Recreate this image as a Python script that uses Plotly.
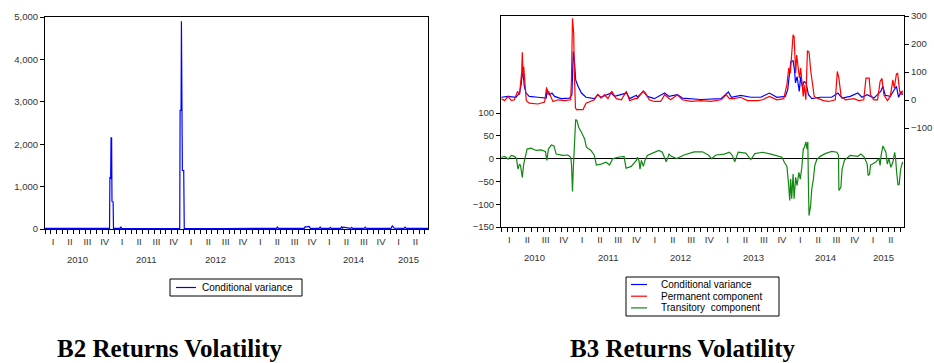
import plotly.graph_objects as go

# ---------------- data ----------------
# B2: conditional variance
b2_dates = ["2010-01-01", "2010-06-01", "2010-12-08", "2010-12-10", "2010-12-14", "2010-12-16",
            "2010-12-19", "2010-12-21", "2010-12-27", "2010-12-29", "2011-02-02", "2011-02-06",
            "2011-02-10", "2011-07-01", "2011-12-14", "2011-12-16", "2011-12-21", "2011-12-23",
            "2011-12-28", "2012-01-04", "2012-01-07", "2012-08-01", "2013-05-08", "2013-05-13",
            "2013-05-18", "2013-10-02", "2013-10-07", "2013-10-14", "2013-10-28", "2013-11-03",
            "2013-12-20", "2013-12-25", "2013-12-30", "2014-02-12", "2014-02-17", "2014-02-22",
            "2014-04-12", "2014-04-17", "2014-04-22", "2014-04-26", "2014-06-04", "2014-06-10",
            "2014-06-15", "2014-08-14", "2014-08-20", "2014-08-25", "2015-01-04", "2015-01-10",
            "2015-01-20", "2015-03-13", "2015-03-19", "2015-03-25", "2015-07-18"]
b2_values = [15, 12, 15, 1210, 1200, 2150, 2150, 650, 640, 15, 15, 50,
             15, 12, 15, 2800, 2800, 4900, 1380, 1380, 15, 12, 15, 45,
             15, 15, 55, 50, 60, 15, 15, 45, 15, 15, 40, 15,
             15, 50, 20, 45, 15, 40, 15, 15, 45, 15, 15, 80,
             20, 15, 45, 15, 15]

# B3: conditional variance (right axis)
cv_dates = ["2010-01-03", "2010-02-06", "2010-03-17", "2010-04-04", "2010-04-12", "2010-04-18",
            "2010-04-23", "2010-04-28", "2010-05-07", "2010-05-23", "2010-07-05", "2010-08-16",
            "2010-08-21", "2010-09-02", "2010-09-14", "2010-09-27", "2010-10-30", "2010-12-11",
            "2010-12-23", "2010-12-30", "2011-01-05", "2011-01-11", "2011-01-23", "2011-02-09",
            "2011-03-04", "2011-04-15", "2011-05-02", "2011-05-18", "2011-07-08", "2011-07-25",
            "2011-09-23", "2011-10-09", "2011-11-12", "2011-11-17", "2011-12-17", "2012-01-06",
            "2012-02-10", "2012-04-02", "2012-04-24", "2012-06-05", "2012-06-30", "2012-10-01",
            "2013-01-10", "2013-02-16", "2013-03-03", "2013-04-19", "2013-06-09", "2013-07-29",
            "2013-09-10", "2013-10-18", "2013-11-29", "2013-12-11", "2013-12-19", "2013-12-27",
            "2014-01-07", "2014-01-14", "2014-01-19", "2014-01-27", "2014-02-07", "2014-02-14",
            "2014-02-22", "2014-03-03", "2014-03-13", "2014-03-25", "2014-04-11", "2014-05-23",
            "2014-07-20", "2014-08-20", "2014-09-10", "2014-10-21", "2014-11-28", "2014-12-19",
            "2015-01-14", "2015-02-17", "2015-03-23", "2015-04-03", "2015-04-15", "2015-05-10",
            "2015-05-30", "2015-06-10", "2015-06-21", "2015-07-03", "2015-07-11"]
cv_values = [10, 13, 10, 25, 55, 96,
             90, 49, 25, 13, 10, 7,
             37, 19, 25, 13, 5, 7,
             19, 173, 138, 72, 49, 25,
             10, 5, 19, 10, 25, 13,
             25, 5, 17, 10, 31, 13,
             5, 25, 13, 19, 7, 2,
             5, 29, 10, 17, 10, 10,
             25, 10, 13, 37, 90, 138,
             140, 108, 61, 84, 31, 84,
             49, 66, 61, 19, 5, 10,
             10, 25, 7, 13, 25, 10,
             19, 7, 31, 49, 17, 13,
             37, 49, 10, 31, 19]

# B3: permanent component (right axis)
pc_dates = ["2010-01-03", "2010-01-19", "2010-02-06", "2010-02-22", "2010-03-09", "2010-03-25",
            "2010-04-04", "2010-04-15", "2010-04-18", "2010-04-22", "2010-04-25", "2010-05-02",
            "2010-05-08", "2010-05-23", "2010-07-05", "2010-08-08", "2010-08-18", "2010-08-24",
            "2010-08-29", "2010-09-11", "2010-09-19", "2010-10-14", "2010-11-17", "2010-12-17",
            "2010-12-21", "2010-12-26", "2011-01-01", "2011-01-05", "2011-01-10", "2011-01-15",
            "2011-02-17", "2011-03-04", "2011-04-15", "2011-05-02", "2011-05-18", "2011-06-05",
            "2011-06-22", "2011-07-11", "2011-08-03", "2011-08-28", "2011-09-23", "2011-10-09",
            "2011-11-04", "2011-11-17", "2011-12-03", "2011-12-17", "2011-12-28", "2012-01-15",
            "2012-02-10", "2012-03-13", "2012-04-02", "2012-04-16", "2012-05-02", "2012-06-05",
            "2012-06-30", "2012-08-12", "2012-10-01", "2012-11-20", "2013-01-10", "2013-02-05",
            "2013-02-21", "2013-03-16", "2013-04-19", "2013-05-22", "2013-07-12", "2013-08-07",
            "2013-09-10", "2013-10-18", "2013-11-21", "2013-12-07", "2013-12-16", "2013-12-24",
            "2013-12-31", "2014-01-07", "2014-01-12", "2014-01-15", "2014-01-20", "2014-01-25",
            "2014-02-02", "2014-02-08", "2014-02-14", "2014-02-20", "2014-02-27", "2014-03-03",
            "2014-03-12", "2014-03-20", "2014-03-28", "2014-04-06", "2014-04-15", "2014-04-23",
            "2014-05-14", "2014-06-09", "2014-07-04", "2014-08-07", "2014-08-17", "2014-08-25",
            "2014-09-05", "2014-09-27", "2014-11-08", "2014-12-03", "2014-12-28", "2015-01-08",
            "2015-01-24", "2015-01-31", "2015-02-17", "2015-03-07", "2015-03-20", "2015-03-29",
            "2015-04-08", "2015-04-26", "2015-05-10", "2015-05-23", "2015-05-30", "2015-06-10",
            "2015-06-16", "2015-06-26", "2015-07-03", "2015-07-11"]
pc_values = [5, -2, 13, -2, 1, 31,
             19, 102, 171, 78, 120, 43,
             -2, -11, -14, -7, 45, 19,
             31, 7, -5, 1, -2, 1,
             78, 292, 239, 78, -28, -34,
             -34, -11, 1, 21, 7, 19,
             5, 31, 5, 1, 31, -2,
             5, 5, 19, 33, 25, 1,
             -5, -5, 19, 10, 1, 19,
             1, -5, -2, -5, 1, 19,
             5, 5, 10, -2, -2, 1,
             13, 1, 5, 55, 114, 96,
             173, 233, 227, 150, 96, 161,
             120, 78, 114, 61, 13, 55,
             1, 176, 171, 102, 43, 13,
             5, -2, -5, 1, 102, 78,
             13, 1, 5, -2, 1, 78,
             78, 19, 1, 1, 66, 78,
             19, -2, 13, 72, 43, 93,
             95, 33, 19, 33]

# B3: transitory component (left axis)
tc_dates = ["2010-01-03", "2010-01-19", "2010-02-06", "2010-02-22", "2010-03-09", "2010-03-20",
            "2010-03-27", "2010-04-04", "2010-04-09", "2010-04-18", "2010-04-25", "2010-05-02",
            "2010-05-12", "2010-06-01", "2010-06-26", "2010-07-21", "2010-08-12", "2010-08-19",
            "2010-08-27", "2010-09-11", "2010-09-24", "2010-10-05", "2010-11-08", "2010-12-03",
            "2010-12-17", "2010-12-21", "2010-12-26", "2010-12-30", "2011-01-05", "2011-01-11",
            "2011-01-18", "2011-01-26", "2011-02-09", "2011-02-25", "2011-03-06", "2011-03-29",
            "2011-04-15", "2011-04-25", "2011-05-18", "2011-06-13", "2011-06-30", "2011-07-16",
            "2011-08-11", "2011-09-11", "2011-09-21", "2011-10-17", "2011-11-12", "2011-11-17",
            "2011-11-25", "2011-11-30", "2011-12-07", "2011-12-17", "2011-12-25", "2012-01-06",
            "2012-02-01", "2012-03-04", "2012-03-21", "2012-04-10", "2012-04-24", "2012-05-05",
            "2012-06-02", "2012-07-08", "2012-08-28", "2012-10-09", "2012-11-07", "2012-11-24",
            "2012-12-15", "2013-01-27", "2013-02-21", "2013-03-08", "2013-03-20", "2013-04-06",
            "2013-05-14", "2013-06-09", "2013-06-29", "2013-08-07", "2013-09-18", "2013-10-18",
            "2013-11-12", "2013-11-24", "2013-12-07", "2013-12-16", "2013-12-21", "2013-12-26",
            "2013-12-31", "2014-01-07", "2014-01-12", "2014-01-20", "2014-01-27", "2014-02-05",
            "2014-02-12", "2014-02-20", "2014-02-27", "2014-03-05", "2014-03-12", "2014-03-18",
            "2014-03-22", "2014-03-25", "2014-03-28", "2014-04-05", "2014-04-11", "2014-04-19",
            "2014-04-26", "2014-05-06", "2014-05-23", "2014-06-17", "2014-07-20", "2014-08-15",
            "2014-08-23", "2014-08-25", "2014-09-04", "2014-09-10", "2014-09-22", "2014-10-21",
            "2014-11-28", "2014-12-14", "2014-12-31", "2015-01-14", "2015-01-19", "2015-01-26",
            "2015-01-31", "2015-02-25", "2015-03-14", "2015-03-20", "2015-03-25", "2015-04-03",
            "2015-04-10", "2015-04-18", "2015-04-25", "2015-05-03", "2015-05-13", "2015-05-23",
            "2015-06-01", "2015-06-06", "2015-06-11", "2015-06-18", "2015-06-24", "2015-07-01",
            "2015-07-11"]
tc_values = [3, 5, -1, 7, 5, 0,
             -23, -12, -15, -41, -12, 0,
             21, 23, 18, 19, 16, -4,
             21, 30, 28, 10, 7, 8,
             3, -12, -72, -23, 50, 86,
             83, 69, 58, 43, 25, 18,
             7, -14, -12, -8, -14, 0,
             3, 5, -21, -17, -4, 3,
             -4, -23, -4, -17, -4, 7,
             12, 18, 14, -7, 10, 5,
             0, 8, 15, 15, 8, 0,
             8, 10, 14, 7, -7, 14,
             12, -2, 11, 14, 10, 7,
             3, -8, -17, -59, -92, -45,
             -88, -34, -88, -41, -59, -30,
             -45, -19, 21, 25, 37, 21,
             37, -59, -125, -103, -66, -45,
             -15, -2, 5, 11, 16, 14,
             7, -70, -63, -23, -3, 7,
             5, 10, 3, -12, -37, -34,
             -14, -8, 0, -15, 7, 28,
             21, 14, -12, 0, -19, -8,
             14, 0, -30, -58, -56, -23,
             -7]

# axis labels
quarter_dates = ["2010-02-12", "2010-05-13", "2010-08-13", "2010-11-12",
                 "2011-02-12", "2011-05-13", "2011-08-13", "2011-11-12",
                 "2012-02-12", "2012-05-13", "2012-08-13", "2012-11-12",
                 "2013-02-12", "2013-05-13", "2013-08-13", "2013-11-12",
                 "2014-02-12", "2014-05-13", "2014-08-13", "2014-11-12",
                 "2015-02-12", "2015-05-13"]
quarter_labels = ["I", "II", "III", "IV"] * 5 + ["I", "II"]
year_dates = ["2010-06-20", "2011-06-20", "2012-06-20", "2013-06-20", "2014-06-20", "2015-04-05"]
year_labels = ["2010", "2011", "2012", "2013", "2014", "2015"]
b2_yticks = [0, 1000, 2000, 3000, 4000, 5000]
b3_left_ticks = [-150, -100, -50, 0, 50, 100]
b3_right_ticks = [-100, 0, 100, 200, 300]
x_range = ["2010-01-01", "2015-07-18"]
b2_legend = ["Conditional variance"]
b3_legend = ["Conditional variance", "Permanent component", "Transitory  component"]
b3_colors = ["#0000FF", "#FF0000", "#118811"]

# ---------------- figure ----------------
W, H = 934, 363
FONT = "Liberation Sans"
TICKC = "#333333"
TS = 9.5

def px(v):
    return v / W

def py(v):
    return (H - v) / H

fig = go.Figure()
fig.add_trace(go.Scatter(x=b2_dates, y=b2_values, mode="lines", name=b2_legend[0],
                         line=dict(color="#0000FF", width=1.2), xaxis="x", yaxis="y"))
fig.add_trace(go.Scatter(x=cv_dates, y=cv_values, mode="lines", name=b3_legend[0],
                         line=dict(color=b3_colors[0], width=1.2), xaxis="x2", yaxis="y3"))
fig.add_trace(go.Scatter(x=pc_dates, y=pc_values, mode="lines", name=b3_legend[1],
                         line=dict(color=b3_colors[1], width=1.2), xaxis="x2", yaxis="y3"))
fig.add_trace(go.Scatter(x=tc_dates, y=tc_values, mode="lines", name=b3_legend[2],
                         line=dict(color=b3_colors[2], width=1.2), xaxis="x2", yaxis="y2"))

xcommon = dict(type="date", range=x_range, showline=True, linecolor="black", linewidth=1,
               mirror=True, showgrid=False, zeroline=False, tickmode="array",
               tickvals=quarter_dates, ticktext=quarter_labels, ticks="", automargin=False,
               tickfont=dict(family=FONT, size=TS, color=TICKC), ticklabelstandoff=4,
               minor=dict(tick0="2010-01-01", dtick="M1", ticks="outside", ticklen=4,
                          tickcolor="black", tickwidth=1, showgrid=False))
ycommon = dict(showgrid=False, ticks="outside", ticklen=4, tickcolor="black", automargin=False,
               tickfont=dict(family=FONT, size=TS, color=TICKC), linecolor="black",
               linewidth=1, showline=True)

fig.update_layout(
    width=W, height=H, margin=dict(l=0, r=0, t=0, b=0),
    paper_bgcolor="white", plot_bgcolor="white", showlegend=False,
    xaxis=dict(domain=[px(45), px(428)], anchor="y", **xcommon),
    yaxis=dict(domain=[py(229), py(17)], anchor="x", range=[0, 5000], tickmode="array",
               tickvals=b2_yticks, tickformat=",", mirror=True, zeroline=False, **ycommon),
    xaxis2=dict(domain=[px(501), px(904)], anchor="y2", **xcommon),
    yaxis2=dict(domain=[py(227), py(16)], anchor="x2", range=[-150, 313], tickmode="array",
                tickvals=b3_left_ticks, mirror=True, zeroline=True, zerolinecolor="black",
                zerolinewidth=1, **ycommon),
    yaxis3=dict(overlaying="y2", anchor="x2", side="right", range=[-453, 300],
                tickmode="array", tickvals=b3_right_ticks, zeroline=False, automargin=False,
                showgrid=False, ticks="outside", ticklen=4, tickcolor="black",
                tickfont=dict(family=FONT, size=TS, color=TICKC), showline=False),
)

annotations = []
shapes = []
for d, lab in zip(year_dates, year_labels):
    annotations.append(dict(x=d, y=py(259), xref="x", yref="paper", text=lab, showarrow=False,
                            xanchor="center", yanchor="middle",
                            font=dict(family=FONT, size=TS, color=TICKC)))
    annotations.append(dict(x=d, y=py(257), xref="x2", yref="paper", text=lab, showarrow=False,
                            xanchor="center", yanchor="middle",
                            font=dict(family=FONT, size=TS, color=TICKC)))

# manual legends (compact, EViews style)
shapes.append(dict(type="rect", xref="paper", yref="paper", x0=px(170), x1=px(302),
                   y0=py(296), y1=py(279), line=dict(color="black", width=1),
                   fillcolor="white"))
shapes.append(dict(type="line", xref="paper", yref="paper", x0=px(176), x1=px(196),
                   y0=py(287.5), y1=py(287.5), line=dict(color="#0000FF", width=1.2)))
annotations.append(dict(x=px(200), y=py(287.5), xref="paper", yref="paper", text=b2_legend[0],
                        showarrow=False, xanchor="left", yanchor="middle",
                        font=dict(family=FONT, size=10, color="black")))

shapes.append(dict(type="rect", xref="paper", yref="paper", x0=px(626), x1=px(779),
                   y0=py(316), y1=py(277), line=dict(color="black", width=1),
                   fillcolor="white"))
for i, (lab, col) in enumerate(zip(b3_legend, b3_colors)):
    yy = 284.5 + i * 11.7
    shapes.append(dict(type="line", xref="paper", yref="paper", x0=px(631), x1=px(647),
                       y0=py(yy), y1=py(yy), line=dict(color=col, width=1.2)))
    annotations.append(dict(x=px(659), y=py(yy), xref="paper", yref="paper", text=lab,
                            showarrow=False, xanchor="left", yanchor="middle",
                            font=dict(family=FONT, size=10, color="black")))

annotations.append(dict(x=px(170), y=py(348), xref="paper", yref="paper",
                        text="<b>B2 Returns Volatility</b>", showarrow=False,
                        xanchor="center", yanchor="middle",
                        font=dict(family="Liberation Serif", size=25, color="black")))
annotations.append(dict(x=px(683), y=py(348), xref="paper", yref="paper",
                        text="<b>B3 Returns Volatility</b>", showarrow=False,
                        xanchor="center", yanchor="middle",
                        font=dict(family="Liberation Serif", size=25, color="black")))
fig.update_layout(annotations=annotations, shapes=shapes)

fig.write_html("out.html", config={"displayModeBar": False},
               post_script="document.body.style.margin='0';document.body.style.overflow='hidden';")
